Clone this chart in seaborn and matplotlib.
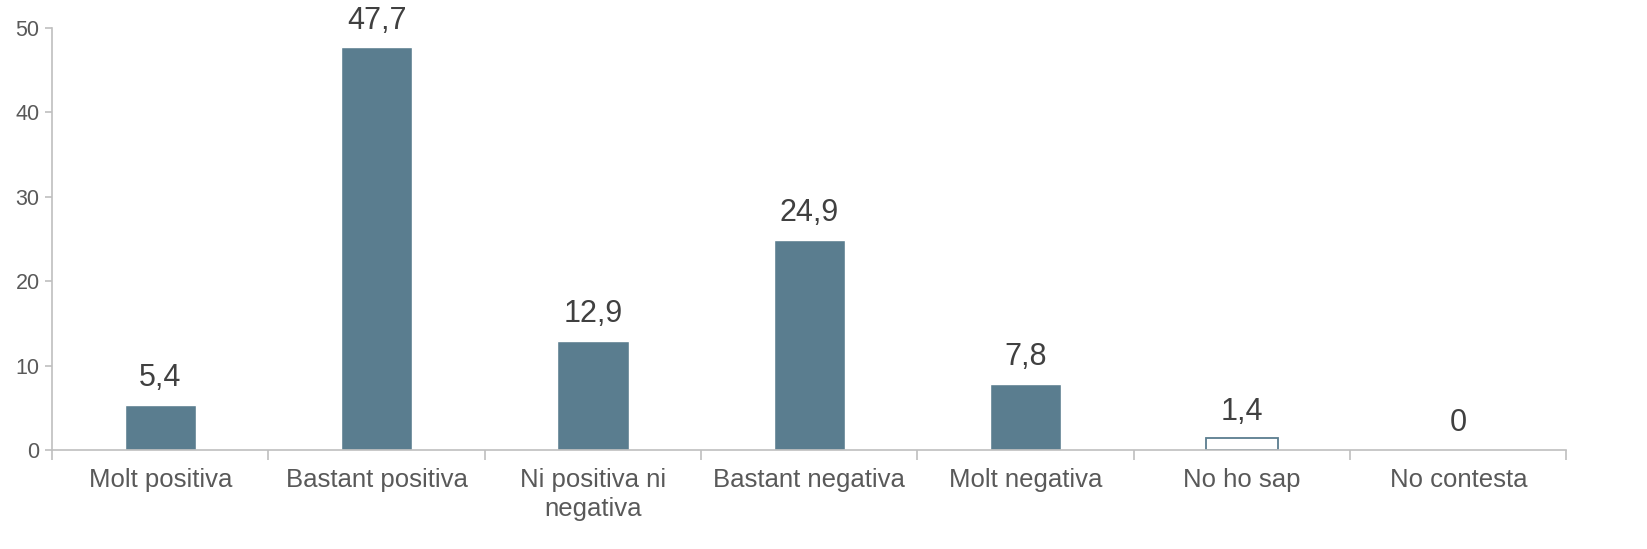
import numpy as np
import pandas as pd
import seaborn as sns
import matplotlib.pyplot as plt

categories = ["Molt positiva", "Bastant positiva", "Ni positiva ni\nnegativa",
              "Bastant negativa", "Molt negativa", "No ho sap", "No contesta"]
values = [5.4, 47.7, 12.9, 24.9, 7.8, 1.4, 0]
labels = ["5,4", "47,7", "12,9", "24,9", "7,8", "1,4", "0"]

df = pd.DataFrame({"cat": categories, "val": values})

sns.set_style("white")
plt.rcParams['font.family'] = ['Liberation Sans', 'DejaVu Sans']

fig = plt.figure(figsize=(16.47, 5.49), dpi=100)
ax = fig.add_axes([0.0316, 0.180, 0.9195, 0.769])

bar_col = "#5a7d8f"
sns.barplot(data=df, x="cat", y="val", color=bar_col, width=0.33,
            saturation=1, ax=ax)

# "No ho sap" is drawn hollow
p = ax.patches[5]
p.set_facecolor("white")
p.set_edgecolor(bar_col)
p.set_linewidth(1.3)

for i, (v, t) in enumerate(zip(values, labels)):
    ax.text(i, v + 1.4, t, ha="center", va="bottom", fontsize=22, color="#404040")

ax.set_xlim(-0.5, 6.5)
ax.set_ylim(0, 50)
ax.set_yticks([0, 10, 20, 30, 40, 50])
ax.set_xlabel("")
ax.set_ylabel("")

ax.set_xticks(np.arange(7))
ax.set_xticklabels(categories, fontsize=18.5, color="#595959", linespacing=1.25)
ax.set_xticks(np.arange(-0.5, 7, 1), minor=True)
ax.tick_params(axis="x", which="major", length=0, pad=13, bottom=True)
ax.tick_params(axis="x", which="minor", length=7, width=1.2, color="#bfbfbf",
               direction="out", bottom=True)
ax.tick_params(axis="y", labelsize=15.5, labelcolor="#595959", length=5, width=1.2,
               color="#bfbfbf", direction="out", left=True, pad=4)

for s in ["top", "right"]:
    ax.spines[s].set_visible(False)
for s in ["left", "bottom"]:
    ax.spines[s].set_color("#bfbfbf")
    ax.spines[s].set_linewidth(1.2)

plt.savefig("out.png", dpi=100)
